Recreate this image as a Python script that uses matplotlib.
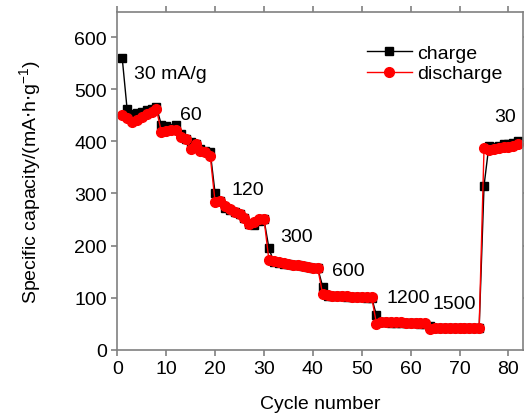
import numpy as np
import matplotlib.pyplot as plt

plt.rcParams['font.family'] = ['Liberation Sans', 'DejaVu Sans']

# cycle numbers and capacities (mA h g-1)
cycles = np.arange(1, 83)

charge = [560, 462, 452, 455, 457, 460, 462, 466, 432, 429,
          425, 432, 414, 405, 398, 395, 385, 382, 380, 300,
          285, 272, 268, 265, 260, 252, 242, 240, 248, 250,
          195, 168, 166, 165, 164, 163, 162, 160, 158, 157,
          156, 121, 104, 104, 103, 103, 102, 102, 101, 101,
          100, 100, 66, 53, 53, 52, 52, 52, 51, 51,
          51, 50, 50, 45, 42, 42, 42, 42, 41, 41,
          41, 41, 41, 41, 315, 392, 390, 392, 395, 395,
          396, 400]

discharge = [450, 445, 438, 442, 447, 452, 456, 462, 418, 420,
             422, 422, 408, 404, 385, 395, 382, 380, 372, 283,
             286, 275, 270, 265, 260, 252, 242, 245, 250, 251,
             172, 170, 168, 166, 165, 163, 162, 160, 158, 157,
             156, 106, 105, 104, 104, 103, 103, 102, 102, 102,
             101, 101, 50, 54, 54, 53, 53, 53, 52, 52,
             52, 52, 52, 40, 41, 41, 41, 41, 41, 41,
             41, 41, 42, 42, 388, 384, 386, 388, 390, 390,
             392, 395]

# current density labels and where they sit (cycle, capacity)
rate_labels = ['30 mA/g', '60', '120', '300', '600', '1200', '1500', '30']
rate_x = [3.4, 12.9, 23.4, 33.4, 44.0, 55.0, 64.4, 77.0]
rate_y = [530, 452, 308, 218, 152, 100, 88, 447]

fig = plt.figure(figsize=(5.24, 4.14), dpi=100)
ax = fig.add_axes([0.2239, 0.153, 0.7745, 0.815])

ax.plot(cycles, charge, color='black', marker='s', markersize=6,
        linewidth=1.0, label='charge')
ax.plot(cycles, discharge, color='red', marker='o', markersize=7,
        linewidth=1.0, label='discharge')

for lab, x, y in zip(rate_labels, rate_x, rate_y):
    ax.text(x, y, lab, fontsize=14, ha='left', va='center')

ax.set_xlim(0, 83)
ax.set_ylim(0, 648)
ax.set_xticks(range(0, 81, 10))
ax.set_yticks(range(0, 601, 100))

for sp in ax.spines.values():
    sp.set_color('#808080')
    sp.set_linewidth(1.2)

ax.tick_params(axis='both', which='both', direction='out', length=4,
               width=1.2, color='#808080', labelsize=14,
               top=True, right=True)

ax.set_xlabel('Cycle number', fontsize=14, labelpad=13)
ax.set_ylabel(r'Specific capacity/(mA$\cdot$h$\cdot$g$^{\mathregular{-1}}$)',
              fontsize=14, labelpad=22)

ax.legend(loc='upper left', bbox_to_anchor=(0.615, 0.905), frameon=False,
          fontsize=14, handlelength=2.3, handletextpad=0.3,
          labelspacing=0.15, borderpad=0, borderaxespad=0)

fig.savefig('out.png', dpi=100)
